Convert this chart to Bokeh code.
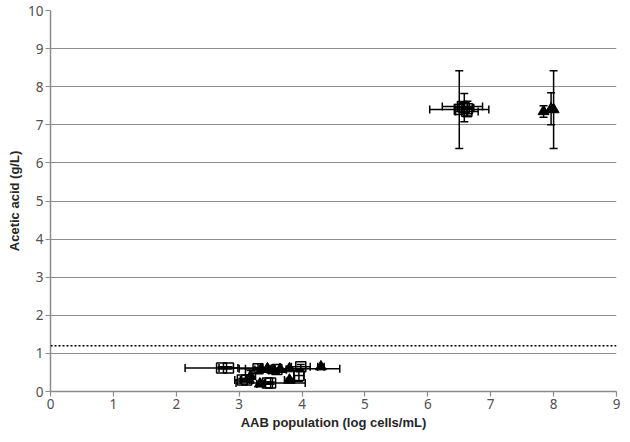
from bokeh.plotting import figure
from bokeh.models import ColumnDataSource, Whisker, TeeHead, Span, FixedTicker
from bokeh.embed import file_html
from bokeh.resources import INLINE

# ---- data ----
# open squares series
sq_x    = [2.72, 2.83, 3.05, 3.12, 3.30, 3.45, 3.50, 3.60, 3.95, 3.98, 6.50, 6.55, 6.58, 6.62, 6.63]
sq_y    = [0.62, 0.62, 0.30, 0.30, 0.60, 0.22, 0.22, 0.58, 0.42, 0.65, 7.40, 7.48, 7.45, 7.35, 7.42]
sq_xerr = [0.58, 0.15, 0.12, 0.10, 0.20, 0.05, 0.55, 0.15, 0.08, 0.15, 0.47, 0.32, 0.15, 0.18, 0.08]
sq_yerr = [0.03, 0.03, 0.04, 0.04, 0.03, 0.03, 0.03, 0.03, 0.15, 0.06, 1.02, 0.08, 0.37, 0.12, 0.20]

# filled triangles series
tr_x    = [3.18, 3.33, 3.35, 3.45, 3.55, 3.65, 3.80, 3.80, 4.30, 7.84, 7.96, 8.00]
tr_y    = [0.40, 0.20, 0.58, 0.60, 0.55, 0.58, 0.60, 0.30, 0.65, 7.35, 7.42, 7.40]
tr_xerr = [0.08, 0.05, 0.10, 0.12, 0.08, 0.10, 0.80, 0.08, 0.05, 0.00, 0.00, 0.00]
tr_yerr = [0.15, 0.03, 0.03, 0.03, 0.03, 0.03, 0.03, 0.05, 0.03, 0.15, 0.42, 1.02]

threshold = 1.2
x_ticks = list(range(0, 10))
y_ticks = list(range(0, 11))

GRAY = "#8c8c8c"

p = figure(width=622, height=434, x_range=(0, 9), y_range=(0, 10),
           output_backend="svg", toolbar_location=None,
           min_border_left=50, min_border_right=6, min_border_top=10, min_border_bottom=43)
p.outline_line_color = None
p.background_fill_color = "white"
p.border_fill_color = "white"

p.xgrid.visible = False
p.ygrid.grid_line_color = GRAY
p.ygrid.grid_line_width = 1.2
p.ygrid.ticker = FixedTicker(ticks=y_ticks)

p.xaxis.ticker = FixedTicker(ticks=x_ticks)
p.yaxis.ticker = FixedTicker(ticks=y_ticks)
for ax in (p.xaxis[0], p.yaxis[0]):
    ax.axis_line_color = GRAY
    ax.axis_line_width = 1.5
    ax.major_tick_line_color = GRAY
    ax.major_tick_line_width = 1.2
    ax.major_tick_in = 0
    ax.major_tick_out = 5
    ax.minor_tick_line_color = None
    ax.major_label_text_font = "Noto Sans"
    ax.major_label_text_font_size = "13.5px"
    ax.major_label_text_color = "#505050"
    ax.major_label_standoff = 2
    ax.axis_label_text_font = "Liberation Sans"
    ax.axis_label_text_font_style = "bold"
    ax.axis_label_text_font_size = "13px"
    ax.axis_label_text_color = "#262626"
    ax.axis_label_standoff = 3

p.xaxis.axis_label = "AAB population (log cells/mL)"
p.yaxis.axis_label = "Acetic acid (g/L)"

# threshold dotted line
p.add_layout(Span(location=threshold, dimension="width", line_color="black",
                  line_width=1.5, line_dash="2 2"))


def add_whiskers(xs, ys, xe, ye):
    hx = [(x, y, e) for x, y, e in zip(xs, ys, xe) if e > 0]
    vy = [(x, y, e) for x, y, e in zip(xs, ys, ye) if e > 0]
    hsrc = ColumnDataSource(dict(base=[h[1] for h in hx],
                                 lower=[h[0] - h[2] for h in hx],
                                 upper=[h[0] + h[2] for h in hx]))
    vsrc = ColumnDataSource(dict(base=[v[0] for v in vy],
                                 lower=[v[1] - v[2] for v in vy],
                                 upper=[v[1] + v[2] for v in vy]))
    p.add_layout(Whisker(source=hsrc, base="base", lower="lower", upper="upper",
                         dimension="width", line_color="black", line_width=1.5,
                         lower_head=TeeHead(size=8, line_color="black", line_width=1.5),
                         upper_head=TeeHead(size=8, line_color="black", line_width=1.5)))
    p.add_layout(Whisker(source=vsrc, base="base", lower="lower", upper="upper",
                         dimension="height", line_color="black", line_width=1.5,
                         lower_head=TeeHead(size=8, line_color="black", line_width=1.5),
                         upper_head=TeeHead(size=8, line_color="black", line_width=1.5)))


add_whiskers(sq_x, sq_y, sq_xerr, sq_yerr)
add_whiskers(tr_x, tr_y, tr_xerr, tr_yerr)

p.scatter(sq_x, sq_y, marker="square", size=10, fill_color=None,
          line_color="black", line_width=1.5)
p.scatter(tr_x, tr_y, marker="triangle", size=11, fill_color="black",
          line_color="black")

open("out.html", "w").write(file_html(p, INLINE))
